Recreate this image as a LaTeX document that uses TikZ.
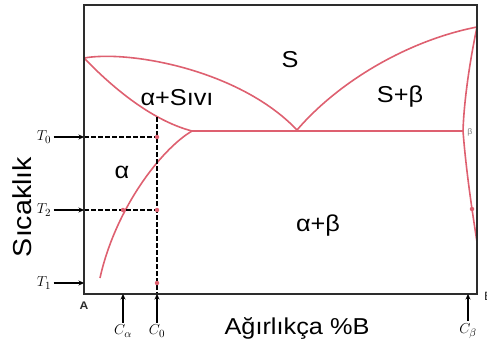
\documentclass[tikz,border=0pt]{standalone}
\usepackage{fontspec}
\setmainfont{Liberation Sans}[FakeStretch=1.1]
\usetikzlibrary{arrows.meta,positioning}
\definecolor{phasered}{RGB}{222,96,112}
\definecolor{framegray}{RGB}{45,45,45}
\begin{document}
\begin{tikzpicture}[x=1pt,y=-1pt,>={Stealth[length=5.5pt,width=5pt]},
 phase/.style={phasered,line width=1.6pt},
 guide/.style={dash pattern=on 4.5pt off 2.5pt,line width=1.1pt},
 region/.style={font=\fontsize{23}{26}\selectfont,inner sep=0pt},
 ticklab/.style={font=\fontsize{15}{17}\selectfont,inner sep=0pt,outer sep=2.5pt},
 tickarrow/.style={->,line width=1.1pt},
 reddot/.style={circle,fill=phasered,inner sep=0pt,minimum size=4.5pt}]
\useasboundingbox (0,0) rectangle (487,349);
% phase boundaries
\coordinate (meltA) at (84,58);
\coordinate (eut) at (297,130);
\coordinate (alphaMax) at (192,131);
\coordinate (betaMax) at (463,131);
\coordinate (meltB) at (477,27);
\coordinate (alphaEnd) at (100,278);
\coordinate (betaEnd) at (477,242);
\draw[phase] (meltA) .. controls (130,50) and (240,70) .. (eut);
\draw[phase] (meltA) .. controls (110,85) and (150,120) .. (alphaMax);
\draw[phase] (alphaMax) .. controls (160,150) and (115,210) .. (alphaEnd);
\draw[phase] (alphaMax) -- (betaMax);
\draw[phase] (eut) .. controls (340,80) and (410,40) .. (meltB);
\draw[phase] (meltB) .. controls (470,60) and (464,100) .. (betaMax);
\draw[phase] (betaMax) .. controls (466,170) and (472,210) .. (betaEnd);
% temperature and composition guides
\coordinate (t0) at (84,137);
\coordinate (t2) at (84,210);
\coordinate (t1) at (84,283);
\coordinate (x0) at (157,137);
\coordinate (x2) at (157,210);
\coordinate (ctop) at (157,117);
\coordinate (ca) at (123,294);
\coordinate (c0) at (157,294);
\coordinate (cb) at (468,294);
\draw[guide] (t0) -- (x0);
\draw[guide] (t2) -- (x2);
\draw[guide] (ctop) -- (c0);
\node[reddot] (m0) at (x0) {};
\node[reddot] (m2) at (x2) {};
\node[reddot] (ma) at (123,210) {};
\node[reddot] (m1) at (157,283) {};
\node[reddot] (mb) at (472,209) {};
% frame
\draw[framegray,line width=1.8pt] (84,5) rectangle (477,294);
% axis ticks
\node[ticklab] (t0lab) at (44,137) {$T_0$};
\node[ticklab] (t2lab) at (44,210) {$T_2$};
\node[ticklab] (t1lab) at (44,283) {$T_1$};
\draw[tickarrow] (t0lab) -- (t0);
\draw[tickarrow] (t2lab) -- (t2);
\draw[tickarrow] (t1lab) -- (t1);
\node[ticklab] (calab) at (123,331) {$C_\alpha$};
\node[ticklab] (c0lab) at (157,331) {$C_0$};
\node[ticklab] (cblab) at (468,331) {$C_\beta$};
\draw[tickarrow] (calab) -- (ca);
\draw[tickarrow] (c0lab) -- (c0);
\draw[tickarrow] (cblab) -- (cb);
\node[font=\fontsize{11}{12}\selectfont\bfseries,text=framegray,inner sep=0pt] (alab) at (84,306) {A};
\node[font=\fontsize{12}{13}\selectfont,text=framegray,inner sep=0pt,anchor=west] (blab) at (484,296) {B};
% phase regions
\node[region] (liq) at (290,60) {S};
\node[region] (aliq) at (177,98) {α+Sıvı};
\node[region] (bliq) at (400,97) {S+β};
\node[region] (alpha) at (122,172) {α};
\node[region] (ab) at (318,226) {α+β};
\node[font=\fontsize{8}{9}\selectfont,text=gray,inner sep=0pt] (beta) at (470,132) {β};
% axis titles
\node[region,font=\fontsize{26}{28}\selectfont,rotate=90] (ylab) at (22,207) {Sıcaklık};
\node[region] (xlab) at (297,328) {Ağırlıkça \%B};
\end{tikzpicture}
\end{document}
